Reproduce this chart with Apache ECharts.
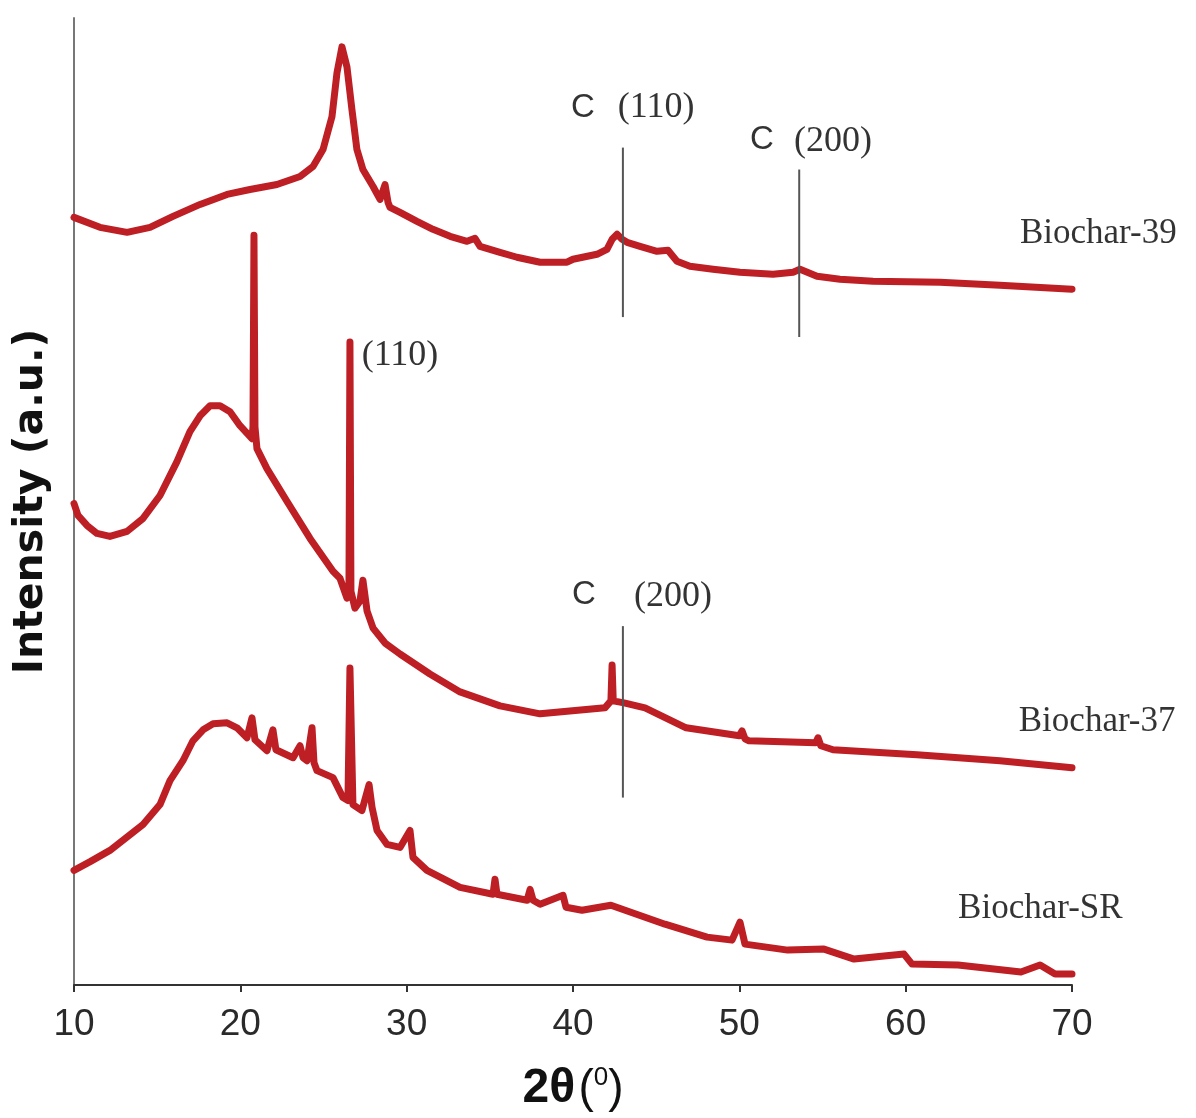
<!DOCTYPE html>
<html>
<head>
<meta charset="utf-8">
<title>XRD patterns of biochars</title>
<script src="https://cdn.jsdelivr.net/npm/echarts@6/dist/echarts.min.js"></script>
<style>
  html, body { margin: 0; padding: 0; background: #ffffff; }
  #chart { width: 1196px; height: 1118px; }
</style>
</head>
<body>
<div id="chart"></div>
<script>
// Diffraction angle range and ticks
const xTicks = [10, 20, 30, 40, 50, 60, 70];

// Stacked patterns: [2θ (°), intensity (a.u., vertically offset)]
const biochar39 = [
  [10.00,770],[11.56,760],[13.19,755],[14.57,760],[15.95,771],[17.58,783],[19.20,793],
  [20.58,798],[22.20,803],[23.59,811],[24.37,821],[24.97,838],[25.51,871],[25.81,915],
  [26.11,941],[26.41,921],[26.71,878],[27.01,838],[27.37,818],[27.98,801],[28.40,788],
  [28.70,803],[28.88,785],[29.00,780],[29.60,775],[30.62,766],[31.58,758],[32.61,751],
  [33.63,746],[34.11,749],[34.41,741],[35.61,735],[36.63,730],[38.02,725],[39.64,725],
  [40.00,728],[41.44,733],[42.04,738],[42.35,748],[42.65,753],[42.95,748],[43.25,745],
  [44.03,741],[45.05,736],[45.71,737],[46.25,726],[47.03,721],[48.42,718],[50.04,715],
  [52.03,713],[53.23,715],[53.65,718],[54.67,711],[56.05,708],[58.04,706],[62.07,705],
  [65.67,702],[70.00,698]
];

const biochar37 = [
  [10.00,483],[10.24,471],[10.78,461],[11.38,453],[12.16,450],[13.19,455],[14.15,468],
  [15.17,491],[16.19,525],[16.97,555],[17.58,571],[18.18,581],[18.78,581],[19.38,575],
  [19.98,561],[20.70,548],[20.76,560],[20.82,752],[20.88,560],[21.00,538],[21.60,518],
  [22.81,485],[24.19,448],[25.57,415],[25.99,408],[26.41,388],[26.53,395],[26.59,645],
  [26.65,395],[26.89,378],[27.19,385],[27.37,406],[27.62,375],[27.98,358],[28.70,343],
  [29.60,332],[31.40,312],[33.21,294],[35.61,280],[38.02,272],[41.92,278],[42.28,285],
  [42.35,321],[42.42,285],[43.07,283],[44.33,278],[46.80,258],[50.00,250],[50.16,255],
  [50.34,247],[50.58,245],[54.60,243],[54.73,248],[54.90,240],[55.63,236],[60.68,231],
  [65.67,225],[70.00,218]
];

const biocharSR = [
  [10.00,115],[11.00,124],[12.16,135],[14.15,161],[15.17,181],[15.77,205],[16.55,225],
  [17.15,245],[17.76,256],[18.36,262],[19.20,263],[19.80,258],[20.40,248],[20.70,268],
  [20.88,246],[21.60,235],[21.96,256],[22.14,236],[23.17,228],[23.59,240],[23.77,228],
  [24.01,225],[24.31,258],[24.43,223],[24.61,215],[25.57,208],[26.17,188],[26.47,185],
  [26.59,318],[26.77,181],[27.31,175],[27.74,201],[27.92,178],[28.22,155],[28.82,141],
  [29.60,138],[30.20,155],[30.38,128],[31.22,115],[33.21,98],[35.19,91],[35.31,106],
  [35.43,91],[37.24,85],[37.42,96],[37.60,85],[38.02,81],[39.40,90],[39.58,78],
  [40.54,75],[42.28,80],[45.53,61],[48.06,48],[49.56,45],[50.04,63],[50.34,41],
  [52.91,35],[55.09,36],[56.90,26],[59.90,31],[60.38,21],[63.15,20],[66.93,13],
  [68.08,20],[68.98,11],[70.00,11]
];

// Graphite reflection markers: [2θ, lower intensity, upper intensity]
const markerLines = [[43.0, 670, 840], [53.6, 650, 818], [43.0, 188, 360]];

// Reflection labels: position (2θ, intensity) and text
const reflectionX = [40.60, 45.00, 51.36, 55.63, 29.60, 40.66, 46.01];
const reflectionY = [880, 880, 848, 846, 631, 391, 390];
const reflectionText = ['C', '(110)', 'C', '(200)', '(110)', 'C', '(200)'];

// Sample names, left-aligned at (2θ, intensity)
const sampleNames = ['Biochar-39', 'Biochar-37', 'Biochar-SR'];
const sampleX = [66.87, 66.80, 63.15];
const sampleY = [754, 264, 76];

const RED = '#bd1f24';
const serif = "'Liberation Serif', 'Times New Roman', serif";
const narrow = "'Liberation Sans Narrow', 'Liberation Sans', Arial, sans-serif";
const wideBold = "'DejaVu Sans', 'Liberation Sans', Arial, sans-serif";

const chart = echarts.init(document.getElementById('chart'), null, { renderer: 'canvas' });

const patternSeries = [biochar39, biochar37, biocharSR].map((d, i) => ({
  type: 'line',
  name: sampleNames[i],
  data: d,
  symbol: 'none',
  smooth: false,
  z: 3,
  lineStyle: { color: RED, width: 7, join: 'round', cap: 'round' },
  silent: true
}));

const markerSeries = markerLines.map(m => ({
  type: 'line',
  data: [[m[0], m[1]], [m[0], m[2]]],
  symbol: 'none',
  z: 4,
  lineStyle: { color: '#555555', width: 2 },
  silent: true
}));

const reflectionSeries = {
  type: 'scatter',
  symbolSize: 1,
  itemStyle: { color: 'rgba(0,0,0,0)' },
  z: 5,
  silent: true,
  data: reflectionX.map((x, i) => ({
    value: [x, reflectionY[i]],
    name: reflectionText[i],
    label: {
      show: true,
      position: 'inside',
      formatter: '{b}',
      color: '#000000',
      fontFamily: reflectionText[i] === 'C' ? narrow : serif,
      fontSize: reflectionText[i] === 'C' ? 33 : 36
    }
  }))
};

const nameSeries = {
  type: 'scatter',
  symbolSize: 1,
  itemStyle: { color: 'rgba(0,0,0,0)' },
  z: 5,
  silent: true,
  data: sampleNames.map((n, i) => ({
    value: [sampleX[i], sampleY[i]],
    name: n,
    label: {
      show: true,
      position: 'inside',
      align: 'left',
      verticalAlign: 'middle',
      formatter: '{b}',
      color: '#000000',
      fontFamily: serif,
      fontSize: 35
    }
  }))
};

chart.setOption({
  animation: false,
  backgroundColor: '#ffffff',
  grid: { left: 74, right: 124, top: 18, bottom: 130, containLabel: false },
  xAxis: {
    type: 'value',
    min: xTicks[0],
    max: xTicks[xTicks.length - 1],
    interval: 10,
    axisLine: { show: true, lineStyle: { color: '#333333', width: 2 } },
    axisTick: { show: true, length: 7, lineStyle: { color: '#333333', width: 2 } },
    splitLine: { show: false },
    axisLabel: {
      color: '#2a2a2a',
      fontFamily: narrow,
      fontSize: 37,
      margin: 21,
      formatter: v => (xTicks.indexOf(v) >= 0 ? String(v) : '')
    },
    name: '{b|2θ} {p|(}{s|0}{p|)}',
    nameLocation: 'middle',
    nameGap: 80,
    nameTextStyle: {
      rich: {
        b: { fontFamily: narrow, fontWeight: 'bold', fontSize: 48, color: '#111111' },
        p: { fontFamily: narrow, fontSize: 46, color: '#111111' },
        s: { fontFamily: narrow, fontSize: 26, color: '#111111', verticalAlign: 'top' }
      }
    }
  },
  yAxis: {
    type: 'value',
    min: 0,
    max: 970,
    axisLine: { show: true, lineStyle: { color: '#777777', width: 2 } },
    axisTick: { show: false },
    axisLabel: { show: false },
    splitLine: { show: false },
    name: 'Intensity (a.u.)',
    nameLocation: 'middle',
    nameRotate: 90,
    nameGap: 22,
    nameTextStyle: { fontFamily: wideBold, fontWeight: 'bold', fontSize: 41, color: '#111111' }
  },
  series: [...patternSeries, ...markerSeries, reflectionSeries, nameSeries]
});
</script>
</body>
</html>
